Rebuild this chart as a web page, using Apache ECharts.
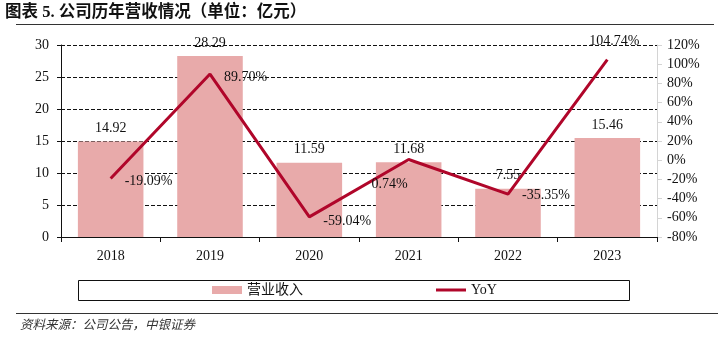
<!DOCTYPE html>
<html>
<head>
<meta charset="utf-8">
<script src="https://cdn.jsdelivr.net/npm/echarts@6/dist/echarts.min.js"></script>
<style>
  html, body { margin: 0; padding: 0; background: #fff; }
  #chart { width: 722px; height: 339px; }
</style>
</head>
<body>
<div id="chart"></div>
<script>
// Annual revenue (100 million CNY) and year-on-year growth
const years = ['2018', '2019', '2020', '2021', '2022', '2023'];
const revenue = [14.92, 28.29, 11.59, 11.68, 7.55, 15.46];
const yoy = [-19.09, 89.70, -59.04, 0.74, -35.35, 104.74];
const leftTicks = { min: 0, max: 30, interval: 5 };
const rightTicks = { min: -80, max: 120, interval: 20 };

// per-point placement of the growth labels
const yoyLabelPlacement = [
  { position: 'right', offset: [2, 3] },
  { position: 'right', offset: [2, 3] },
  { position: 'right', offset: [2, 4] },
  { position: 'bottom', offset: [-19, 6] },
  { position: 'right', offset: [2, 1] },
  { position: 'top', offset: [7, 1] }
];

const serif = '"Liberation Serif", "Times New Roman", serif';
const lineRed = '#B0062A';
const chart = echarts.init(document.getElementById('chart'));

chart.setOption({
  animation: false,
  textStyle: { fontFamily: serif },
  grid: { left: 61, right: 65, top: 45, bottom: 102, containLabel: false },
  graphic: [
    {
      type: 'text', left: 5, top: 4,
      style: {
        text: '图表 5. 公司历年营收情况（单位：亿元）',
        font: 'bold 16.5px "Liberation Serif", "Noto Sans CJK SC", serif',
        fill: '#111'
      }
    },
    { type: 'line', shape: { x1: 16, y1: 24.5, x2: 714, y2: 24.5 }, style: { stroke: '#333', lineWidth: 1 } },
    { type: 'rect', shape: { x: 78.5, y: 280.5, width: 551, height: 20 }, style: { fill: 'none', stroke: '#111', lineWidth: 1 } },
    { type: 'line', shape: { x1: 16, y1: 313.5, x2: 718, y2: 313.5 }, style: { stroke: '#333', lineWidth: 1 } },
    {
      type: 'text', left: 20, top: 318,
      style: {
        text: '资料来源：公司公告，中银证券',
        font: 'italic 12.5px "Noto Sans CJK SC", sans-serif',
        fill: '#333'
      }
    }
  ],
  legend: {
    left: 212, top: 283, padding: 0,
    itemWidth: 30, itemHeight: 8, itemGap: 133, itemTextGap: 4,
    textStyle: { fontFamily: '"Liberation Serif", "Noto Sans CJK SC", serif', fontSize: 14, color: '#111' },
    data: [
      { name: '营业收入', icon: 'rect' },
      { name: 'YoY', icon: 'path://M0,0h30v3h-30z' }
    ]
  },
  xAxis: {
    type: 'category',
    data: years,
    axisLine: { lineStyle: { color: '#111', width: 1 } },
    axisTick: { show: true, length: 5, lineStyle: { color: '#111' } },
    axisLabel: { color: '#111', fontSize: 14, fontFamily: serif, margin: 12 }
  },
  yAxis: [
    {
      type: 'value',
      min: leftTicks.min, max: leftTicks.max, interval: leftTicks.interval,
      axisLine: { show: true, lineStyle: { color: '#111' } },
      axisTick: { show: true, length: 5, lineStyle: { color: '#111', type: 'dashed' } },
      axisLabel: { color: '#111', fontSize: 14, fontFamily: serif, margin: 12 },
      splitLine: { show: true, lineStyle: { color: '#111', type: [4, 2], width: 1 } }
    },
    {
      type: 'value',
      min: rightTicks.min, max: rightTicks.max, interval: rightTicks.interval,
      axisLine: { show: true, lineStyle: { color: '#d4d4d4' } },
      axisTick: { show: true, length: 5, lineStyle: { color: '#d4d4d4' } },
      axisLabel: { color: '#111', fontSize: 14, fontFamily: serif, margin: 10, formatter: '{value}%' },
      splitLine: { show: false }
    }
  ],
  series: [
    {
      name: '营业收入',
      type: 'bar',
      data: revenue,
      barWidth: '66%',
      itemStyle: { color: '#E8AAAA' },
      label: {
        show: true, position: 'top', distance: 6,
        color: '#111', fontSize: 14, fontFamily: serif,
        formatter: p => p.value.toFixed(2)
      },
      z: 2
    },
    {
      name: 'YoY',
      type: 'line',
      yAxisIndex: 1,
      data: yoy.map((v, i) => ({
        value: v,
        label: Object.assign({ show: true }, yoyLabelPlacement[i])
      })),
      symbol: 'circle',
      symbolSize: 0,
      showSymbol: true,
      lineStyle: { color: lineRed, width: 3 },
      itemStyle: { color: lineRed },
      label: {
        show: true, distance: 12,
        color: '#111', fontSize: 14, fontFamily: serif,
        formatter: p => p.value.toFixed(2) + '%'
      },
      z: 3
    }
  ]
});
</script>
</body>
</html>
